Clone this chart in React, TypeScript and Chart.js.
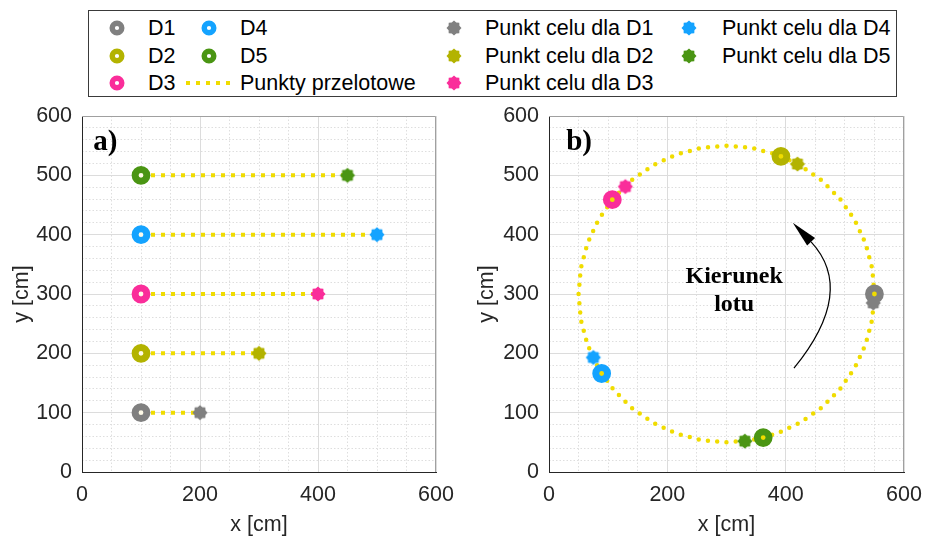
import React, { useEffect, useRef } from 'react';
import { Chart, registerables } from 'chart.js';

Chart.register(...registerables);

const FONT = "'Liberation Sans', Arial, Helvetica, sans-serif";
const SERIF = "'Liberation Serif', 'Times New Roman', serif";

// ---- labels ----
const droneLabels = ['D1', 'D2', 'D3', 'D4', 'D5'];
const targetLabels = ['Punkt celu dla D1', 'Punkt celu dla D2', 'Punkt celu dla D3', 'Punkt celu dla D4', 'Punkt celu dla D5'];
const waypointLabel = 'Punkty przelotowe';
const xTitle = 'x [cm]';
const yTitle = 'y [cm]';
const panelLabels = ['a)', 'b)'];
const directionText = ['Kierunek', 'lotu'];

// ---- colours ----
const droneColors = ['#808080', '#b3b300', '#fa2d9a', '#14a3ff', '#4a9513'];
const waypointColor = '#f0dc00';

// ---- panel a) data ----
const aStartX = [100, 100, 100, 100, 100];
const aStartY = [100, 200, 300, 400, 500];
const aTargetX = [200, 300, 400, 500, 450];
const aTargetY = [100, 200, 300, 400, 500];

// ---- panel b) data ----
const bDroneX = [550, 392, 107, 89, 362];
const bDroneY = [300, 532, 459, 166, 58];
const bTargetX = [548, 420, 129, 75, 331];
const bTargetY = [285, 519, 481, 193, 52];
const bWaypointX = [550, 546.2, 534.9, 516.5, 491.5, 460.7, 425, 385.5, 343.4, 300, 256.6, 214.5, 175, 139.3, 108.5, 83.5, 65.1, 53.8, 50, 53.8, 65.1, 83.5, 108.5, 139.3, 175, 214.5, 256.6, 300, 343.4, 385.5, 425, 460.7, 491.5, 516.5, 534.9, 546.2, 550];
const bWaypointY = [300, 343.4, 385.5, 425, 460.7, 491.5, 516.5, 534.9, 546.2, 550, 546.2, 534.9, 516.5, 491.5, 460.7, 425, 385.5, 343.4, 300, 256.6, 214.5, 175, 139.3, 108.5, 83.5, 65.1, 53.8, 50, 53.8, 65.1, 83.5, 108.5, 139.3, 175, 214.5, 256.6, 300];

// ---- annotations (data coordinates) ----
const panelLabelX = [19, 29];
const panelLabelY = [543, 543];
const directionTextX = 313;
const directionTextY = [329, 281];
const arrowStart = [414, 175];
const arrowCtrl = [520, 305];
const arrowBase = [443, 388];
const arrowTip = [412, 420];

// ---- ticks ----
const axisMin = 0;
const axisMax = 600;
const xMajorTicks = [0, 200, 400, 600];
const yMajorTicks = [0, 100, 200, 300, 400, 500, 600];
const xMinorTicks = [0, 50, 100, 150, 200, 250, 300, 350, 400, 450, 500, 550, 600];
const yMinorTicks = [0, 20, 40, 60, 80, 100, 120, 140, 160, 180, 200, 220, 240, 260, 280, 300, 320, 340, 360, 380, 400, 420, 440, 460, 480, 500, 520, 540, 560, 580, 600];

function starPoints(cx: number, cy: number, R: number, ratio: number): [number, number][] {
  const pts: [number, number][] = [];
  for (let i = 0; i < 16; i++) {
    const r = i % 2 === 0 ? R : R * ratio;
    const a = -Math.PI / 2 + (i * Math.PI) / 8;
    pts.push([cx + r * Math.cos(a), cy + r * Math.sin(a)]);
  }
  return pts;
}

function makeStar(color: string, R = 7.6): HTMLCanvasElement {
  const s = 18;
  const c = document.createElement('canvas');
  c.width = s;
  c.height = s;
  const ctx = c.getContext('2d')!;
  ctx.fillStyle = color;
  ctx.beginPath();
  starPoints(s / 2, s / 2, R, 0.78).forEach(([x, y], i) => (i === 0 ? ctx.moveTo(x, y) : ctx.lineTo(x, y)));
  ctx.closePath();
  ctx.fill();
  return c;
}

const noPad = (s: any) => {
  s.paddingTop = 0;
  s.paddingBottom = 0;
  s.paddingLeft = 0;
  s.paddingRight = 0;
};

function makeScales(yWidth: number) {
  const tickFont = { family: FONT, size: 21.5 };
  return {
    xMinor: {
      type: 'linear', position: 'bottom', min: axisMin, max: axisMax,
      afterBuildTicks: (s: any) => { s.ticks = xMinorTicks.map((v) => ({ value: v })); },
      ticks: { display: false },
      grid: { color: '#dedede', lineWidth: 1, drawTicks: false, z: -2 },
      border: { display: false, dash: [1.5, 2] },
      afterFit: (s: any) => { s.height = 0; noPad(s); },
    },
    yMinor: {
      type: 'linear', position: 'left', min: axisMin, max: axisMax,
      afterBuildTicks: (s: any) => { s.ticks = yMinorTicks.map((v) => ({ value: v })); },
      ticks: { display: false },
      grid: { color: '#dedede', lineWidth: 1, drawTicks: false, z: -2 },
      border: { display: false, dash: [1.5, 2] },
      afterFit: (s: any) => { s.width = 0; noPad(s); },
    },
    x: {
      type: 'linear', position: 'bottom', min: axisMin, max: axisMax,
      afterBuildTicks: (s: any) => { s.ticks = xMajorTicks.map((v) => ({ value: v })); },
      ticks: { color: '#262626', font: tickFont, padding: 10, maxRotation: 0, autoSkip: false },
      grid: { color: '#dcdcdc', lineWidth: 1, drawTicks: false },
      border: { color: '#262626', width: 1 },
      title: { display: true, text: xTitle, color: '#262626', font: tickFont, padding: 0 },
      afterFit: (s: any) => { s.height = 66; noPad(s); },
    },
    y: {
      type: 'linear', position: 'left', min: axisMin, max: axisMax,
      afterBuildTicks: (s: any) => { s.ticks = yMajorTicks.map((v) => ({ value: v })); },
      ticks: { color: '#262626', font: tickFont, padding: 10, autoSkip: false },
      grid: { color: '#dcdcdc', lineWidth: 1, drawTicks: false },
      border: { color: '#262626', width: 1 },
      title: { display: true, text: yTitle, color: '#262626', font: tickFont, padding: { top: 9.6, bottom: 0 } },
      afterFit: (s: any) => { s.width = yWidth; noPad(s); },
    },
  };
}

function overlayPlugin(panel: number) {
  return {
    id: 'overlay' + panel,
    afterDatasetsDraw(chart: any) {
      const { ctx, chartArea } = chart;
      const xs = chart.scales.x;
      const ys = chart.scales.y;
      ctx.save();
      // box (top and right)
      ctx.strokeStyle = '#a0a0a0';
      ctx.lineWidth = 1;
      const t = Math.round(chartArea.top) + 0.5;
      const r = Math.round(chartArea.right) - 0.5;
      ctx.beginPath();
      ctx.moveTo(chartArea.left, t);
      ctx.lineTo(r, t);
      ctx.lineTo(r, chartArea.bottom);
      ctx.stroke();
      // panel label
      ctx.fillStyle = '#000';
      ctx.font = `bold 29px ${SERIF}`;
      ctx.textAlign = 'left';
      ctx.textBaseline = 'alphabetic';
      ctx.fillText(panelLabels[panel], xs.getPixelForValue(panelLabelX[panel]), ys.getPixelForValue(panelLabelY[panel]));
      if (panel === 1) {
        ctx.font = `bold 24px ${SERIF}`;
        ctx.textAlign = 'center';
        ctx.textBaseline = 'middle';
        directionText.forEach((txt, i) => {
          ctx.fillText(txt, xs.getPixelForValue(directionTextX), ys.getPixelForValue(directionTextY[i]));
        });
        const P = (p: number[]) => [xs.getPixelForValue(p[0]), ys.getPixelForValue(p[1])];
        const s = P(arrowStart), c = P(arrowCtrl), b = P(arrowBase), tip = P(arrowTip);
        ctx.strokeStyle = '#000';
        ctx.lineWidth = 1.2;
        ctx.beginPath();
        ctx.moveTo(s[0], s[1]);
        ctx.quadraticCurveTo(c[0], c[1], b[0], b[1]);
        ctx.stroke();
        const dx = tip[0] - b[0], dy = tip[1] - b[1];
        const len = Math.hypot(dx, dy);
        const nx = -dy / len, ny = dx / len;
        const hw = 5.5;
        ctx.fillStyle = '#000';
        ctx.beginPath();
        ctx.moveTo(tip[0], tip[1]);
        ctx.lineTo(b[0] + nx * hw, b[1] + ny * hw);
        ctx.lineTo(b[0] - nx * hw, b[1] - ny * hw);
        ctx.closePath();
        ctx.fill();
      }
      ctx.restore();
    },
  };
}

function baseOptions(yWidth: number, rightPad: number) {
  return {
    responsive: false,
    animation: false,
    events: [],
    layout: { padding: { left: 0, top: 16, right: rightPad, bottom: 0 } },
    plugins: { legend: { display: false }, tooltip: { enabled: false } },
    scales: makeScales(yWidth),
  };
}

function droneDataset(xs: number[], ys: number[], center: string) {
  return {
    label: 'drones',
    data: xs.map((x, i) => ({ x, y: ys[i] })),
    showLine: false,
    pointStyle: 'circle',
    pointRadius: 5.9,
    pointBorderWidth: 7,
    pointBorderColor: droneColors,
    pointBackgroundColor: center,
  };
}

function targetDataset(xs: number[], ys: number[], stars: HTMLCanvasElement[]) {
  return {
    label: 'targets',
    data: xs.map((x, i) => ({ x, y: ys[i] })),
    showLine: false,
    pointStyle: (ctx: any) => stars[ctx.dataIndex],
    pointRadius: 7.5,
  };
}

export default function App() {
  const refA = useRef<HTMLCanvasElement>(null);
  const refB = useRef<HTMLCanvasElement>(null);

  useEffect(() => {
    Chart.defaults.font.family = FONT;
    const stars = droneColors.map((c) => makeStar(c));

    const lineSets = aStartX.map((x, i) => ({
      label: waypointLabel,
      data: [{ x, y: aStartY[i] }, { x: aTargetX[i], y: aTargetY[i] }],
      showLine: true,
      borderColor: waypointColor,
      borderWidth: 4,
      borderDash: [4, 6],
      borderCapStyle: 'butt',
      pointRadius: 0,
      tension: 0,
    }));

    const chartA = new Chart(refA.current!, {
      type: 'scatter',
      data: {
        datasets: [
          droneDataset(aStartX, aStartY, '#fffbe8'),
          targetDataset(aTargetX, aTargetY, stars),
          ...lineSets,
        ] as any,
      },
      options: baseOptions(82, 29) as any,
      plugins: [overlayPlugin(0)],
    });

    const chartB = new Chart(refB.current!, {
      type: 'scatter',
      data: {
        datasets: [
          droneDataset(bDroneX, bDroneY, waypointColor),
          targetDataset(bTargetX, bTargetY, stars),
          {
            label: waypointLabel,
            data: bWaypointX.map((x, i) => ({ x, y: bWaypointY[i] })),
            showLine: true,
            borderColor: waypointColor,
            borderWidth: 4.5,
            borderDash: [0, 9.294],
            borderCapStyle: 'round',
            pointRadius: 0,
            tension: 0,
          },
        ] as any,
      },
      options: baseOptions(84, 21) as any,
      plugins: [overlayPlugin(1)],
    });

    return () => {
      chartA.destroy();
      chartB.destroy();
    };
  }, []);

  const textStyle = (left: number, cy: number): React.CSSProperties => ({
    position: 'absolute', left, top: cy - 12, height: 24, lineHeight: '24px',
    fontFamily: FONT, fontSize: 21.5, color: '#000', whiteSpace: 'nowrap',
  });
  const ring = (cx: number, cy: number, color: string, key: string) => (
    <svg key={key} width={18} height={18} style={{ position: 'absolute', left: cx - 9, top: cy - 9 }}>
      <circle cx={9} cy={9} r={4.8} fill="#fff" stroke={color} strokeWidth={5.4} />
    </svg>
  );
  const star = (cx: number, cy: number, color: string, key: string) => (
    <svg key={key} width={18} height={18} style={{ position: 'absolute', left: cx - 9, top: cy - 9 }}>
      <polygon points={starPoints(9, 9, 7.5, 0.78).map((p) => p.join(',')).join(' ')} fill={color} />
    </svg>
  );

  const rows = [28, 55.5, 82.5];
  const col1 = { m: 117, t: 148 };
  const col2 = { m: 209, t: 240 };
  const col3 = { m: 454, t: 485 };
  const col4 = { m: 689, t: 722 };

  return (
    <div style={{ position: 'absolute', left: 0, top: 0, width: 925, height: 538, background: '#fff', overflow: 'hidden' }}>
      <div style={{ position: 'absolute', left: 88, top: 10, width: 809, height: 87, boxSizing: 'border-box', border: '1px solid #3a3a3a', background: '#fff' }} />
      {[0, 1, 2].map((i) => ring(col1.m, rows[i], droneColors[i], 'r' + i))}
      {[0, 1, 2].map((i) => <span key={'t' + i} style={textStyle(col1.t, rows[i])}>{droneLabels[i]}</span>)}
      {[3, 4].map((i) => ring(col2.m, rows[i - 3], droneColors[i], 'r' + i))}
      {[3, 4].map((i) => <span key={'t' + i} style={textStyle(col2.t, rows[i - 3])}>{droneLabels[i]}</span>)}
      <svg width={50} height={10} style={{ position: 'absolute', left: 185, top: rows[2] - 5 }}>
        <line x1={1} y1={5} x2={48} y2={5} stroke={waypointColor} strokeWidth={4} strokeDasharray="4 6" />
      </svg>
      <span style={textStyle(col2.t, rows[2])}>{waypointLabel}</span>
      {[0, 1, 2].map((i) => star(col3.m, rows[i], droneColors[i], 's' + i))}
      {[0, 1, 2].map((i) => <span key={'u' + i} style={textStyle(col3.t, rows[i])}>{targetLabels[i]}</span>)}
      {[3, 4].map((i) => star(col4.m, rows[i - 3], droneColors[i], 's' + i))}
      {[3, 4].map((i) => <span key={'u' + i} style={textStyle(col4.t, rows[i - 3])}>{targetLabels[i]}</span>)}
      <canvas ref={refA} width={465} height={438} style={{ position: 'absolute', left: 0, top: 100 }} />
      <canvas ref={refB} width={460} height={438} style={{ position: 'absolute', left: 465, top: 100 }} />
    </div>
  );
}
